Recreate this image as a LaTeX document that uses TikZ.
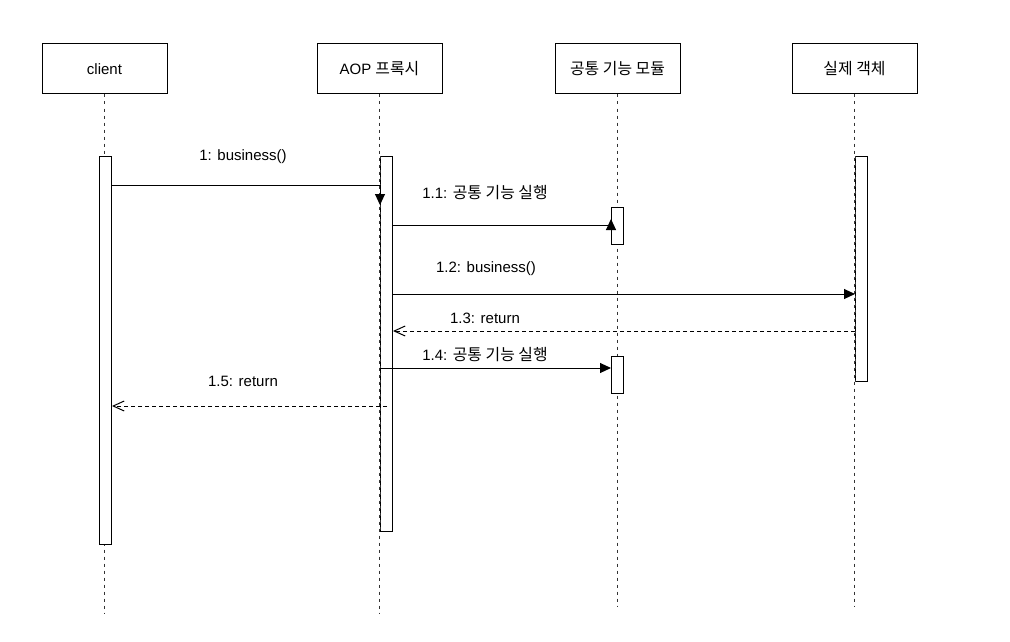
\documentclass[tikz,border=0pt]{standalone}
\usepackage{fontspec}
\setmainfont{Liberation Sans}
\newfontfamily\kr[Scale=1.06]{Noto Sans CJK KR}
\usetikzlibrary{arrows.meta}
\begin{document}
\begin{tikzpicture}[x=1pt,y=-1pt,
  every node/.style={font=\fontsize{15}{18}\selectfont},
  header/.style={draw,line width=1pt,fill=white,minimum width=125pt,minimum height=50pt,inner sep=0pt},
  actbar/.style={draw,line width=1pt,fill=white,minimum width=12pt,inner sep=0pt,anchor=north west},
  lifeline/.style={line width=1pt,dash pattern=on 3pt off 4pt,draw=black!80},
  msg/.style={line width=1pt,-{Triangle[length=11pt,width=10pt]}},
  ret/.style={line width=1pt,dash pattern=on 4pt off 3pt,-{Straight Barb[length=11pt,width=10pt]}},
  lbl/.style={inner sep=0pt}]
\useasboundingbox (0,0) rectangle (1010,642);
% headers
\node[header] (client) at (104.5,69) {client};
\node[header] (aop) at (379.5,69) {AOP {\kr 프록시}};
\node[header] (mod) at (617.5,69) {{\kr 공통 기능 모듈}};
\node[header] (real) at (854.5,69) {{\kr 실제 객체}};
% lifeline ends
\coordinate (clientend) at (104.5,614);
\coordinate (aopend) at (379.5,614);
\coordinate (modend) at (617.5,606);
\coordinate (realend) at (854.5,606);
\draw[lifeline] (client.south) -- (clientend);
\draw[lifeline] (aop.south) -- (aopend);
\draw[lifeline] (mod.south) -- (modend);
\draw[lifeline] (real.south) -- (realend);
% activation bars
\node[actbar,minimum height=388pt] (clientact) at (99,156) {};
\node[actbar,minimum height=375pt] (aopact) at (380,156) {};
\node[actbar,minimum height=37pt] (modact1) at (611,207) {};
\node[actbar,minimum height=37pt] (modact2) at (611,356) {};
\node[actbar,minimum height=225pt] (realact) at (855,156) {};
% lifeline visible over left edges
\draw[lifeline] (aopact.north west) -- (aopact.south west);
\draw[lifeline] (realact.north west) -- (realact.south west);
% messages
\draw[msg] (clientact.east |- 0,185) -- (aopact.west |- 0,185) -- (aopact.west |- 0,205);
\node[lbl] (l1) at (243,157) {1: business()};
\draw[msg] (aopact.east |- 0,225) -- (modact1.west |- 0,225) -- (modact1.west |- 0,219);
\node[lbl] (l11) at (485,193) {1.1: {\kr 공통 기능 실행}};
\draw[msg] (aopact.east |- 0,294) -- (realact.west |- 0,294);
\node[lbl] (l12) at (486,269) {1.2: business()};
\draw[ret] (realact.west |- 0,331) -- (aopact.east |- 0,331);
\node[lbl] (l13) at (485,318) {1.3: return};
\draw[msg] (aopact.west |- 0,368) -- (modact2.west |- 0,368);
\node[lbl] (l14) at (485,355) {1.4: {\kr 공통 기능 실행}};
\draw[ret] (387,406) -- (clientact.east |- 0,406);
\node[lbl] (l15) at (243,381) {1.5: return};
\end{tikzpicture}
\end{document}
